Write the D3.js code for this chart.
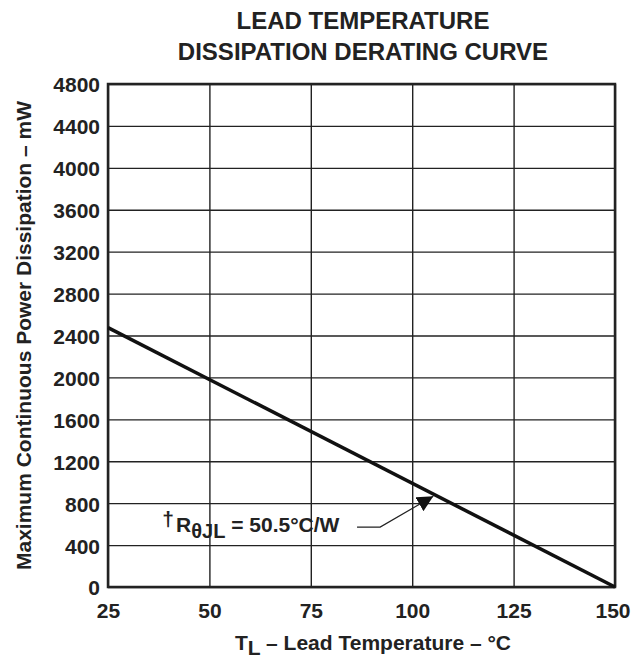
<!DOCTYPE html>
<html>
<head>
<meta charset="utf-8">
<script src="https://cdn.jsdelivr.net/npm/d3@7"></script>
<style>
  body { margin: 0; background: #fff; overflow: hidden; }
  svg { display: block; font-family: "Liberation Sans", Arial, sans-serif; font-weight: bold; }
  .axis path { display: none; }
  .grid line { stroke: #222; stroke-width: 1.4; }
  .labels line { display: none; }
</style>
</head>
<body>
<div id="chart"></div>
<script>
// data
const xTicks = [25, 50, 75, 100, 125, 150];
const yTicks = [0, 400, 800, 1200, 1600, 2000, 2400, 2800, 3200, 3600, 4000, 4400, 4800];
const tempC = [25, 150];           // lead temperature, C
const powerMW = [2475, 0];         // 125 C / 50.5 C/W
const arrowTemp = [86.4, 92.1, 105.2]; // annotation leader: start, bend, tip
const arrowPow = [572, 572, 866];

const width = 631, height = 659;
const margin = {top: 84, right: 16, bottom: 72, left: 108};
const innerWidth = width - margin.left - margin.right;
const innerHeight = height - margin.top - margin.bottom;

const svg = d3.select('#chart').append('svg')
  .attr('width', width)
  .attr('height', height);

const xScale = d3.scaleLinear().domain([25, 150]).range([0, innerWidth]);
const yScale = d3.scaleLinear().domain([0, 4800]).range([innerHeight, 0]);

const g = svg.append('g')
  .attr('transform', `translate(${margin.left},${margin.top})`);

// title
const title = svg.append('text')
  .attr('text-anchor', 'middle')
  .attr('fill', '#222')
  .attr('font-size', 24);
title.append('tspan').attr('x', 363).attr('y', 29).text('LEAD TEMPERATURE');
title.append('tspan').attr('x', 363).attr('y', 60).text('DISSIPATION DERATING CURVE');

// grid lines
g.append('g').attr('class', 'axis grid')
  .attr('transform', `translate(0,${innerHeight})`)
  .call(d3.axisBottom(xScale).tickValues(xTicks).tickFormat('').tickSize(-innerHeight));
g.append('g').attr('class', 'axis grid')
  .call(d3.axisLeft(yScale).tickValues(yTicks).tickFormat('').tickSize(-innerWidth));

// tick labels
const xAxisG = g.append('g').attr('class', 'axis labels')
  .attr('transform', `translate(0,${innerHeight})`)
  .call(d3.axisBottom(xScale).tickValues(xTicks).tickFormat(d3.format('d'))
    .tickSize(0).tickPadding(16))
  .attr('font-size', 21)
  .attr('font-family', null);
xAxisG.selectAll('text').attr('fill', '#222');
// last label sits at the window edge, keep it inside
xAxisG.selectAll('text')
  .filter(d => d === 150)
  .attr('text-anchor', 'end')
  .attr('dx', 15);

const yAxisG = g.append('g').attr('class', 'axis labels')
  .call(d3.axisLeft(yScale).tickValues(yTicks).tickFormat(d3.format('d'))
    .tickSize(0).tickPadding(8))
  .attr('font-size', 21)
  .attr('font-family', null);
yAxisG.selectAll('text')
  .attr('fill', '#222')
  .attr('dy', '0.38em');

// frame
g.append('rect')
  .attr('width', innerWidth)
  .attr('height', innerHeight)
  .attr('fill', 'none')
  .attr('stroke', '#222')
  .attr('stroke-width', 2.5);

// derating line
const line = d3.line()
  .x(d => xScale(d[0]))
  .y(d => yScale(d[1]));

g.append('path')
  .datum(d3.zip(tempC, powerMW))
  .attr('fill', 'none')
  .attr('stroke', '#111')
  .attr('stroke-width', 3.5)
  .attr('d', line);

// annotation leader with arrowhead
svg.append('defs').append('marker')
  .attr('id', 'arrow')
  .attr('viewBox', '0 0 10 10')
  .attr('refX', 10).attr('refY', 5)
  .attr('markerWidth', 16).attr('markerHeight', 16)
  .attr('markerUnits', 'userSpaceOnUse')
  .attr('orient', 'auto')
  .append('path')
  .attr('d', 'M0,0 L10,5 L0,10 Z')
  .attr('fill', '#111');

g.append('path')
  .datum(d3.zip(arrowTemp, arrowPow))
  .attr('fill', 'none')
  .attr('stroke', '#222')
  .attr('stroke-width', 1.2)
  .attr('marker-end', 'url(#arrow)')
  .attr('d', line);

const note = g.append('text')
  .attr('x', xScale(38.4))
  .attr('y', yScale(600) + 8)
  .attr('fill', '#222')
  .attr('font-size', 21);
note.append('tspan').attr('dy', -6).text('†');
note.append('tspan').attr('dy', 6).attr('dx', 2).text('R');
note.append('tspan').attr('dy', 6).attr('font-size', 20).text('θJL');
note.append('tspan').attr('dy', -6).text(' = 50.5°C/W');

// axis titles
const xt = svg.append('text')
  .attr('x', 373)
  .attr('y', 650)
  .attr('text-anchor', 'middle')
  .attr('fill', '#222')
  .attr('font-size', 21);
xt.append('tspan').text('T');
xt.append('tspan').attr('dy', 5).text('L');
xt.append('tspan').attr('dy', -5).text(' – Lead Temperature – °C');

svg.append('text')
  .attr('transform', `translate(31,${margin.top + innerHeight / 2}) rotate(-90)`)
  .attr('text-anchor', 'middle')
  .attr('fill', '#222')
  .attr('font-size', 21)
  .text('Maximum Continuous Power Dissipation – mW');
</script>
</body>
</html>
